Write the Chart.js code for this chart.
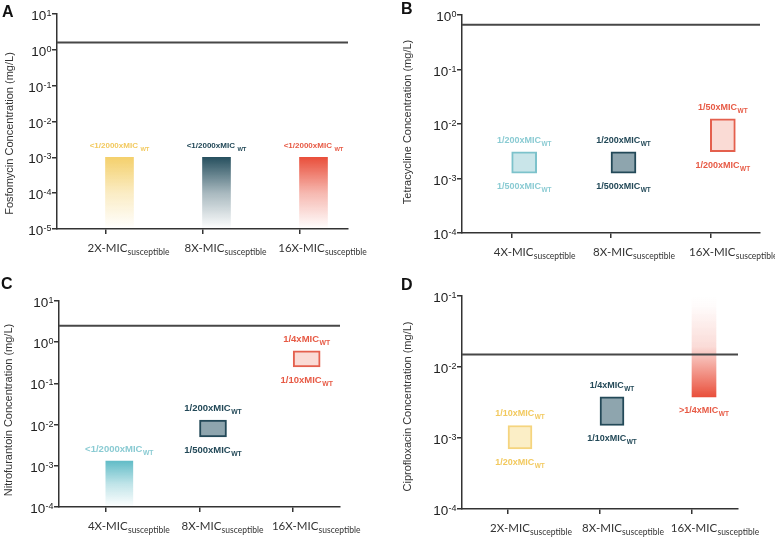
<!DOCTYPE html>
<html>
<head>
<meta charset="utf-8">
<script src="https://cdn.jsdelivr.net/npm/chart.js@4.4.1/dist/chart.umd.min.js"></script>
<style>
  html, body { margin: 0; padding: 0; background: #fff; }
  #wrap { position: relative; width: 775px; height: 537px; overflow: hidden; }
  canvas { position: absolute; }
</style>
</head>
<body>
<div id="wrap">
  <canvas id="chartA" width="385" height="265" style="left:0;top:0"></canvas>
  <canvas id="chartB" width="390" height="265" style="left:385px;top:0"></canvas>
  <canvas id="chartC" width="385" height="272" style="left:0;top:265px"></canvas>
  <canvas id="chartD" width="390" height="272" style="left:385px;top:265px"></canvas>
</div>
<script>
// ---- data ----
// A: fosfomycin
const catsA = ['2X', '8X', '16X'];
const lowA = [1e-5, 1e-5, 1e-5];
const highA = [1e-3, 1e-3, 1e-3];
const topLabA = ['<1/2000xMIC', '<1/2000xMIC', '<1/2000xMIC'];
const botLabA = ['', '', ''];
const micA = 1.6;
const expsA = [-5, -4, -3, -2, -1, 0, 1];

// B: tetracycline
const catsB = ['4X', '8X', '16X'];
const lowB = [0.00125, 0.00125, 0.0031];
const highB = [0.0031, 0.0031, 0.0125];
const topLabB = ['1/200xMIC', '1/200xMIC', '1/50xMIC'];
const botLabB = ['1/500xMIC', '1/500xMIC', '1/200xMIC'];
const micB = 0.66;
const expsB = [-4, -3, -2, -1, 0];

// C: nitrofurantoin
const catsC = ['4X', '8X', '16X'];
const lowC = [1e-4, 0.005, 0.25];
const highC = [0.0013, 0.0128, 0.62];
const topLabC = ['<1/2000xMIC', '1/200xMIC', '1/4xMIC'];
const botLabC = ['', '1/500xMIC', '1/10xMIC'];
const micC = 2.5;
const expsC = [-4, -3, -2, -1, 0, 1];

// D: ciprofloxacin
const catsD = ['2X', '8X', '16X'];
const lowD = [0.0007, 0.0015, 0.0038];
const highD = [0.0015, 0.0038, 0.1];
const topLabD = ['1/10xMIC', '1/4xMIC', ''];
const botLabD = ['1/20xMIC', '1/10xMIC', '>1/4xMIC'];
const micD = 0.015;
const expsD = [-4, -3, -2, -1];

// ---- styles ----
const pal = {
  yellow: { solid: [244, 208, 108], stroke: '#F5D47E', fill: '#FBEEC6', text: '#F2C95E' },
  teal:   { solid: [39, 80, 95],    stroke: '#234958', fill: '#8EA5AE', text: '#234958' },
  red:    { solid: [233, 79, 59],   stroke: '#E4604E', fill: '#FADBD5', text: '#E75A45' },
  cyan:   { solid: [98, 188, 199],  stroke: '#7CC2CB', fill: '#C9E5E9', text: '#8ACBD3' }
};
const rgba = (c, a) => 'rgba(' + c[0] + ',' + c[1] + ',' + c[2] + ',' + a + ')';
const SANS = '"Liberation Sans", Arial, sans-serif';

function drawSub(ctx, main, sub, cx, base, color, f1, f2, drop, gap) {
  if (!main) return;
  ctx.font = f1;
  const w1 = ctx.measureText(main).width;
  ctx.font = f2;
  const w2 = ctx.measureText(sub).width;
  const x0 = cx - (w1 + gap + w2) / 2;
  ctx.fillStyle = color;
  ctx.textAlign = 'left';
  ctx.textBaseline = 'alphabetic';
  ctx.font = f1;
  ctx.fillText(main, x0, base);
  ctx.font = f2;
  ctx.fillText(sub, x0 + w1 + gap, base + drop);
}

// labels above / below each bar
const annot = {
  id: 'annot',
  afterDatasetsDraw(chart, args, o) {
    const ctx = chart.ctx;
    const meta = chart.getDatasetMeta(1);
    ctx.save();
    meta.data.forEach((bar, i) => {
      const c = pal[o.colors[i]];
      const f1 = 'bold ' + o.size + 'px ' + SANS;
      const f2 = 'bold ' + (o.size * 0.72) + 'px ' + SANS;
      drawSub(ctx, o.top[i], 'WT', bar.x, bar.y - 9, c.text, f1, f2, 3, o.gap);
      drawSub(ctx, o.bottom[i], 'WT', bar.x, bar.base + 16, c.text, f1, f2, 3, o.gap);
    });
    ctx.restore();
  }
};

// tick labels, axis title, category labels, panel letter
const deco = {
  id: 'deco',
  afterDraw(chart, args, o) {
    const ctx = chart.ctx, ys = chart.scales.y, xs = chart.scales.x, area = chart.chartArea;
    ctx.save();
    ctx.fillStyle = '#222';
    ctx.textBaseline = 'alphabetic';
    o.exps.forEach(e => {
      const py = ys.getPixelForValue(Math.pow(10, e));
      const es = String(e);
      ctx.font = '9px ' + SANS;
      const ew = ctx.measureText(es).width;
      const xr = area.left - 5.5;
      ctx.textAlign = 'left';
      ctx.fillText(es, xr - ew, py + 2);
      ctx.font = '13.5px ' + SANS;
      ctx.textAlign = 'right';
      ctx.fillText('10', xr - ew - 0.3, py + 6);
    });
    o.cats.forEach((c, i) => {
      const px = xs.getPixelForTick(i) + 23;
      drawSub(ctx, c + '-MIC', 'susceptible', px, area.bottom + 23, '#333',
        '11.5px Lato, sans-serif', '8.5px Lato, sans-serif', 2.5, 0.3);
    });
    ctx.save();
    ctx.translate(o.titleX, (area.top + area.bottom) / 2 + o.titleDy);
    ctx.rotate(-Math.PI / 2);
    ctx.font = '11px ' + SANS;
    ctx.fillStyle = '#333';
    ctx.textAlign = 'center';
    ctx.textBaseline = 'middle';
    ctx.fillText(o.title, 0, 0);
    ctx.restore();
    ctx.font = 'bold 16px ' + SANS;
    ctx.fillStyle = '#111';
    ctx.textAlign = 'left';
    ctx.fillText(o.letter, o.lx, o.ly);
    ctx.restore();
  }
};

function makeChart(id, p) {
  return new Chart(document.getElementById(id), {
    type: 'bar',
    data: {
      labels: p.cats,
      datasets: [
        {
          type: 'line',
          xAxisID: 'xl',
          yAxisID: 'y',
          data: [{ x: 0, y: p.mic }, { x: 1, y: p.mic }],
          borderColor: '#474747',
          borderWidth: 2,
          pointRadius: 0
        },
        {
          xAxisID: 'x',
          yAxisID: 'y',
          data: p.low.map((l, i) => [l, p.high[i]]),
          barThickness: p.barW,
          borderSkipped: false,
          borderWidth: p.kinds.map(k => k === 'box' ? 2 : 0),
          borderColor: p.colors.map(c => pal[c].stroke),
          backgroundColor: (ctx) => {
            const i = ctx.dataIndex;
            const c = pal[p.colors[i]];
            const kind = p.kinds[i];
            if (kind === 'box') return c.fill;
            const chart = ctx.chart;
            if (!chart.chartArea) return rgba(c.solid, 1);
            const ys = chart.scales.y;
            const yTop = ys.getPixelForValue(p.high[i]);
            const yBot = ys.getPixelForValue(p.low[i]);
            const g = chart.ctx.createLinearGradient(0, yTop, 0, yBot);
            if (kind === 'fadeDown') {
              g.addColorStop(0, rgba(c.solid, 1));
              g.addColorStop(0.5, rgba(c.solid, 0.4));
              g.addColorStop(1, rgba(c.solid, 0));
            } else {
              g.addColorStop(0, rgba(c.solid, 0));
              g.addColorStop(0.1, rgba(c.solid, 0.02));
              g.addColorStop(0.5, rgba(c.solid, 0.2));
              g.addColorStop(0.88, rgba(c.solid, 0.8));
              g.addColorStop(1, rgba(c.solid, 1));
            }
            return g;
          }
        }
      ]
    },
    plugins: [annot, deco],
    options: {
      responsive: false,
      animation: false,
      layout: { padding: { top: p.padTop, right: p.padRight, left: 0, bottom: 0 } },
      plugins: {
        legend: { display: false },
        tooltip: { enabled: false },
        annot: { top: p.topLab, bottom: p.botLab, colors: p.colors, size: p.labSize, gap: p.labGap },
        deco: { exps: p.exps, cats: p.cats, title: p.title, titleX: p.titleX, titleDy: p.titleDy,
                letter: p.letter, lx: p.lx, ly: p.ly }
      },
      scales: {
        x: {
          type: 'category',
          offset: true,
          grid: { display: true, drawOnChartArea: false, drawTicks: true, tickLength: 5,
                  color: '#333', lineWidth: 1.5, offset: false },
          border: { display: true, color: '#333', width: 1.5 },
          ticks: { display: false },
          afterFit: (s) => { s.height = p.xH; }
        },
        xl: { type: 'linear', display: false, offset: false, min: 0, max: 1 },
        y: {
          type: 'logarithmic',
          min: Math.pow(10, p.exps[0]),
          max: Math.pow(10, p.exps[p.exps.length - 1]),
          afterBuildTicks: (s) => { s.ticks = p.exps.map(e => ({ value: Math.pow(10, e) })); },
          grid: { display: true, drawOnChartArea: false, drawTicks: true, tickLength: 5,
                  color: '#333', lineWidth: 1.5 },
          border: { display: true, color: '#333', width: 1.5 },
          ticks: { display: false },
          afterFit: (s) => { s.width = p.yW; }
        }
      }
    }
  });
}

makeChart('chartA', {
  cats: catsA, low: lowA, high: highA, topLab: topLabA, botLab: botLabA, mic: micA, exps: expsA,
  kinds: ['fadeDown', 'fadeDown', 'fadeDown'], colors: ['yellow', 'teal', 'red'],
  barW: 28, labSize: 8, labGap: 2.5,
  title: 'Fosfomycin Concentration (mg/L)', titleX: 9.5, titleDy: 12,
  letter: 'A', lx: 2, ly: 17,
  yW: 57, xH: 36, padTop: 14, padRight: 37
});

makeChart('chartB', {
  cats: catsB, low: lowB, high: highB, topLab: topLabB, botLab: botLabB, mic: micB, exps: expsB,
  kinds: ['box', 'box', 'box'], colors: ['cyan', 'teal', 'red'],
  barW: 25, labSize: 9, labGap: 0.5,
  title: 'Tetracycline Concentration (mg/L)', titleX: 23, titleDy: -2,
  letter: 'B', lx: 16, ly: 14,
  yW: 77, xH: 32, padTop: 15, padRight: 15
});

makeChart('chartC', {
  cats: catsC, low: lowC, high: highC, topLab: topLabC, botLab: botLabC, mic: micC, exps: expsC,
  kinds: ['fadeDown', 'box', 'box'], colors: ['cyan', 'teal', 'red'],
  barW: 27, labSize: 9.5, labGap: 0.5,
  title: 'Nitrofurantoin Concentration (mg/L)', titleX: 8.5, titleDy: 6,
  letter: 'C', lx: 1, ly: 24,
  yW: 59, xH: 30, padTop: 36, padRight: 45
});

makeChart('chartD', {
  cats: catsD, low: lowD, high: highD, topLab: topLabD, botLab: botLabD, mic: micD, exps: expsD,
  kinds: ['box', 'box', 'fadeUp'], colors: ['yellow', 'teal', 'red'],
  barW: 24, labSize: 9, labGap: 0.5,
  title: 'Ciprofloxacin Concentration (mg/L)', titleX: 23, titleDy: 4,
  letter: 'D', lx: 16, ly: 25,
  yW: 77, xH: 28, padTop: 31, padRight: 37
});
</script>
</body>
</html>
